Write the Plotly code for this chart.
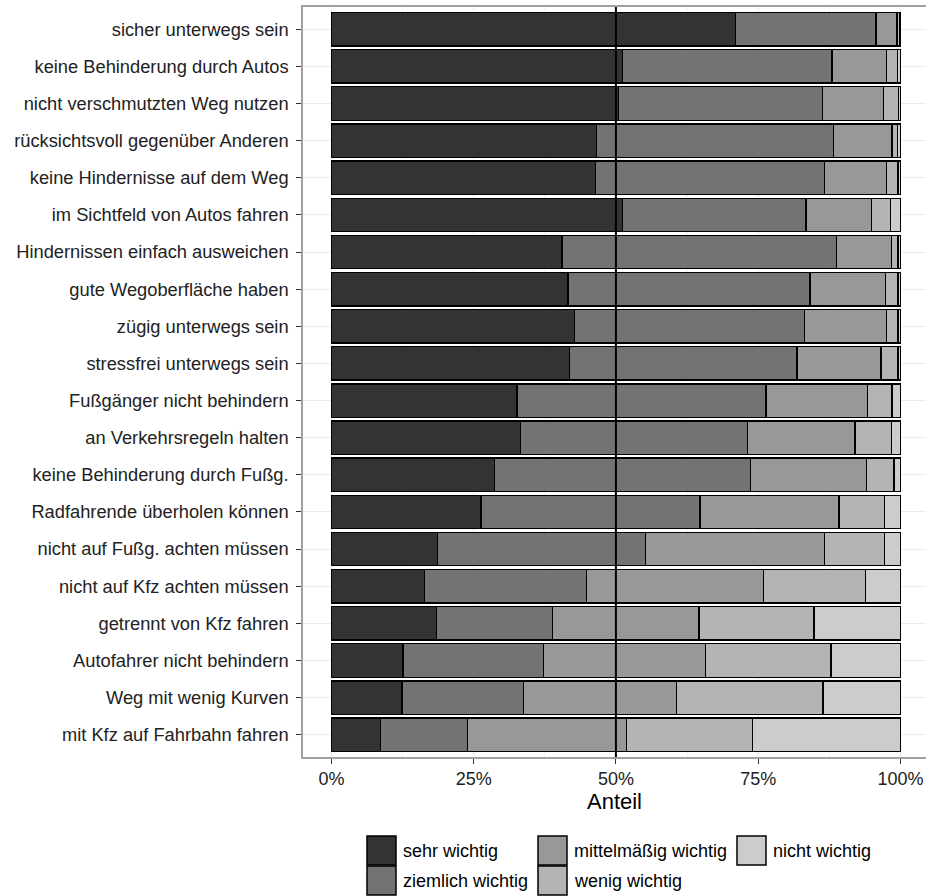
import plotly.graph_objects as go

categories = [
    "sicher unterwegs sein",
    "keine Behinderung durch Autos",
    "nicht verschmutzten Weg nutzen",
    "rücksichtsvoll gegenüber Anderen",
    "keine Hindernisse auf dem Weg",
    "im Sichtfeld von Autos fahren",
    "Hindernissen einfach ausweichen",
    "gute Wegoberfläche haben",
    "zügig unterwegs sein",
    "stressfrei unterwegs sein",
    "Fußgänger nicht behindern",
    "an Verkehrsregeln halten",
    "keine Behinderung durch Fußg.",
    "Radfahrende überholen können",
    "nicht auf Fußg. achten müssen",
    "nicht auf Kfz achten müssen",
    "getrennt von Kfz fahren",
    "Autofahrer nicht behindern",
    "Weg mit wenig Kurven",
    "mit Kfz auf Fahrbahn fahren",
]

sehr_wichtig = [71.0, 51.2, 50.5, 46.6, 46.4, 51.2, 40.5, 41.6, 42.7, 41.8,
                32.6, 33.2, 28.6, 26.3, 18.7, 16.3, 18.5, 12.6, 12.4, 8.6]
ziemlich_wichtig = [24.7, 36.8, 35.8, 41.7, 40.3, 32.2, 48.3, 42.5, 40.5, 40.0,
                    43.8, 39.9, 45.0, 38.5, 36.5, 28.5, 20.4, 24.7, 21.4, 15.3]
mittelmaessig_wichtig = [3.7, 9.5, 10.7, 10.2, 10.8, 11.5, 9.6, 13.3, 14.3, 14.8,
                         17.8, 18.9, 20.4, 24.4, 31.5, 31.1, 25.7, 28.5, 26.9, 27.9]
wenig_wichtig = [0.4, 2.0, 2.7, 1.0, 2.1, 3.3, 1.2, 2.2, 2.1, 3.0,
                 4.3, 6.4, 4.9, 8.0, 10.5, 18.0, 20.2, 22.0, 25.7, 22.2]
nicht_wichtig = [0.2, 0.5, 0.3, 0.5, 0.4, 1.8, 0.4, 0.4, 0.4, 0.4,
                 1.5, 1.6, 1.1, 2.8, 2.8, 6.1, 15.2, 12.2, 13.6, 26.0]

levels = ["sehr wichtig", "ziemlich wichtig", "mittelmäßig wichtig",
          "wenig wichtig", "nicht wichtig"]
series = [sehr_wichtig, ziemlich_wichtig, mittelmaessig_wichtig,
          wenig_wichtig, nicht_wichtig]
colors = ["#333333", "#737373", "#989898", "#b4b4b4", "#cccccc"]

xticks = [0, 25, 50, 75, 100]
xticklabels = ["0%", "25%", "50%", "75%", "100%"]

FONT = "Liberation Sans, Arial, Helvetica, sans-serif"

# figure / panel geometry (pixels)
W, H = 926, 896
ML, MR, MT, MB = 303, 0, 7, 139
PW, PH = W - ML - MR, H - MT - MB


def px_x(x):
    return (x - ML) / PW


def px_y(y):
    return 1 - (y - MT) / PH


fig = go.Figure()
for name, vals, col in zip(levels, series, colors):
    fig.add_trace(go.Bar(
        y=categories, x=vals, name=name, orientation="h",
        marker=dict(color=col, line=dict(color="#000000", width=1.3)),
        width=0.9, showlegend=False,
        hovertemplate="%{y}: %{x:.1f}%<extra>" + name + "</extra>",
    ))

fig.add_shape(type="line", xref="x", yref="paper", x0=50, x1=50, y0=0, y1=1,
              line=dict(color="#000000", width=2), layer="above")

# legend (2 rows x 3 columns, filled column-wise like ggplot)
col_left = [367, 538, 737]
row_top = [836, 866]
key = 29
for i, (name, col) in enumerate(zip(levels, colors)):
    c, r = i // 2, i % 2
    x0, y0 = col_left[c], row_top[r]
    fig.add_shape(type="rect", xref="paper", yref="paper",
                  x0=px_x(x0), x1=px_x(x0 + key), y0=px_y(y0 + key), y1=px_y(y0),
                  fillcolor=col, line=dict(color="#000000", width=1.5))
    fig.add_annotation(xref="paper", yref="paper", x=px_x(x0 + key + 5),
                       y=px_y(y0 + key / 2), text=name, showarrow=False,
                       xanchor="left", yanchor="middle",
                       font=dict(size=18, color="#000000", family=FONT))

fig.update_layout(
    width=W, height=H,
    barmode="stack",
    bargap=0.1,
    plot_bgcolor="#ffffff",
    paper_bgcolor="#ffffff",
    font=dict(family=FONT, size=18, color="#222222"),
    margin=dict(l=ML, r=MR, t=MT, b=MB, autoexpand=False),
    showlegend=False,
    xaxis=dict(
        range=[-5, 104.5], automargin=False,
        tickmode="array", tickvals=xticks, ticktext=xticklabels,
        showgrid=True, gridcolor="#ebebeb", gridwidth=1,
        minor=dict(dtick=12.5, tick0=0, showgrid=True, gridcolor="#f2f2f2", gridwidth=0.6),
        ticks="outside", ticklen=5, tickcolor="#333333", tickwidth=1,
        showline=True, linecolor="#a0a0a0", linewidth=1.5, mirror=True,
        zeroline=False,
        tickfont=dict(size=18, color="#222222"),
        title=dict(text="Anteil", font=dict(size=22, color="#000000"), standoff=3),
    ),
    yaxis=dict(
        type="category", automargin=False,
        categoryorder="array", categoryarray=categories,
        range=[len(categories) - 0.4, -0.6],
        showgrid=True, gridcolor="#ebebeb", gridwidth=1,
        ticks="outside", ticklen=5, tickcolor="#333333", tickwidth=1,
        ticklabelstandoff=4,
        showline=True, linecolor="#a0a0a0", linewidth=1.5, mirror=False,
        zeroline=False,
        tickfont=dict(size=18.3, color="#222222"),
    ),
)

fig.write_html(
    "out.html",
    config={"displayModeBar": False},
    post_script="document.body.style.margin='0';document.body.style.overflow='hidden';",
)
